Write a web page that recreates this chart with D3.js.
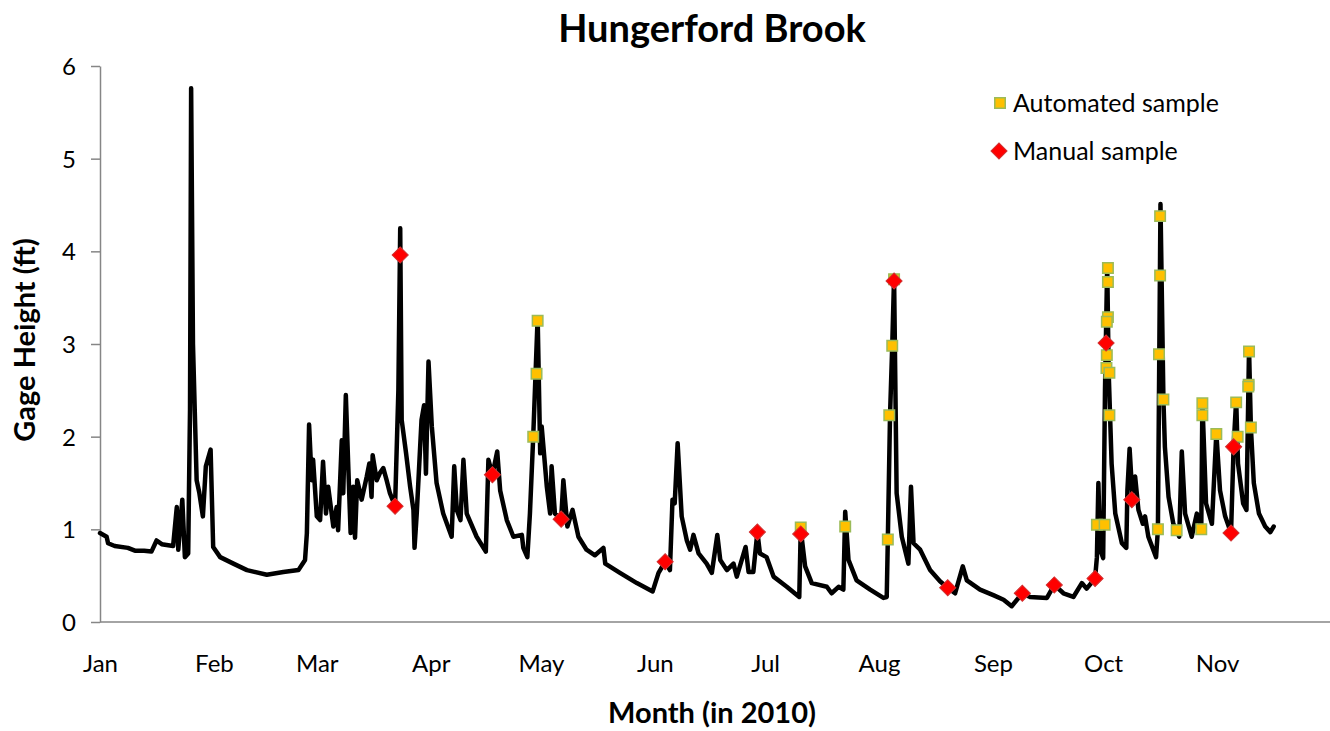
<!DOCTYPE html>
<html lang="en">
<head>
<meta charset="utf-8">
<title>Hungerford Brook</title>
<script src="https://cdn.jsdelivr.net/npm/d3@7"></script>
<style>
body { margin: 0; background: #fff; }
svg text { font-family: Lato, "Open Sans", sans-serif; fill: #000; }
.axis path, .axis line { stroke: #868686; stroke-width: 1.5px; }
.axis text { font-size: 24px; }
.ttl { font-size: 38px; font-weight: bold; }
.lbl { font-size: 29px; font-weight: bold; }
.leg { font-size: 25px; }
</style>
</head>
<body>
<svg width="1330" height="731"></svg>
<script>

// gage record: day of year 2010 (0 = Jan 1) and height (ft)
var lineDays = [0,1.8,2.2,4,7.6,9.5,12,14,15.4,16.8,19.9,20.9,21.3,22.4,23.1,24,24.5,24.8,25.3,26.3,27,28,28.8,30.1,30.8,32.7,36.3,40,45.4,49.9,54,55.8,56.3,56.9,57.6,58,59,59.9,60.7,61.5,62.1,63.5,64.4,64.8,65.8,66.2,66.9,67.6,68.2,68.9,69.4,70,71.2,72.6,73.3,73.9,74.2,75.3,76.2,77.1,78,78.9,80.3,81.2,81.7,82.1,83.3,84.4,85.3,85.6,86.2,87.5,88.2,88.7,89.4,90.3,91.6,93.4,95.7,96.4,97.1,98.1,98.9,99.8,102.5,105,105.7,106.8,108.1,108.9,110.7,112.5,114.8,115.2,116.3,117,117.9,119.1,119.8,120.2,121.6,122.5,122.9,123.8,125.5,126.1,127.2,128.6,130.2,132.4,134.7,137,137.5,141.5,146.1,150.4,152,153.8,155.1,155.8,156.4,157.2,158.3,159.7,160.6,161.5,162.9,165.1,166.5,168,168.8,170.6,172.4,173.3,175.7,176.5,177.8,178.9,179.6,181.4,183.3,186.9,190.3,190.7,191.9,193.7,197.8,199.1,201,202.3,202.8,203.7,205.9,209.6,213.2,214.1,214.4,215,215.6,216.1,216.8,218.2,220,220.7,221.4,223.2,225.9,228.6,230.7,232.7,234.8,235.9,239.5,243.1,245.9,248.1,251,253.1,257.7,259.7,262.2,264.9,267.2,268.5,270.8,271.3,271.7,272.2,273,273.5,274.1,274.5,275.3,276.3,278.1,279.3,279.6,280.2,280.9,281.7,282.6,283.8,284.4,285.3,287.4,287.9,288.6,289.4,289.8,290.8,292.1,293,293.7,294.4,295.3,297.1,298.5,299.7,300,301,302.6,303.8,304.8,306.2,307.8,308.5,309.2,309.7,311.1,312,312.7,313.2,314,315.4,317.1,318.5,319.4];
var lineHeights = [0.96,0.92,0.85,0.82,0.80,0.77,0.77,0.76,0.88,0.84,0.82,1.24,0.78,1.32,0.70,0.74,2.3,5.76,3.0,1.53,1.40,1.14,1.68,1.86,0.81,0.70,0.63,0.56,0.51,0.54,0.56,0.67,0.96,2.13,1.53,1.75,1.14,1.10,1.73,1.17,1.46,1.03,1.24,0.99,1.96,1.39,2.45,1.64,0.96,1.46,0.91,1.53,1.32,1.57,1.71,1.35,1.80,1.53,1.61,1.66,1.53,1.39,1.25,2.5,4.25,2.18,1.82,1.46,1.21,0.80,1.17,2.18,2.34,1.60,2.81,2.11,1.50,1.17,0.92,1.68,1.21,1.10,1.75,1.17,0.92,0.76,1.75,1.59,1.84,1.42,1.10,0.92,0.94,0.80,0.70,1.17,2.00,3.29,1.82,2.11,1.46,1.17,1.68,1.17,1.11,1.53,1.03,1.21,0.92,0.78,0.72,0.80,0.63,0.53,0.42,0.33,0.53,0.65,0.56,1.32,1.28,1.93,1.14,0.88,0.78,0.94,0.74,0.63,0.53,0.94,0.67,0.56,0.63,0.49,0.81,0.54,0.54,0.97,0.74,0.70,0.49,0.38,0.27,1.00,0.60,0.42,0.38,0.31,0.38,0.35,1.19,0.67,0.45,0.35,0.26,0.27,0.89,2.23,2.98,3.72,1.39,0.92,0.63,1.46,0.85,0.78,0.56,0.44,0.37,0.31,0.60,0.45,0.35,0.29,0.24,0.17,0.31,0.27,0.26,0.40,0.31,0.27,0.42,0.36,0.47,0.70,1.50,0.78,0.69,2.5,3.85,2.7,1.71,1.17,0.85,0.80,1.42,1.87,1.39,1.57,1.21,1.06,1.14,0.92,0.70,1.00,4.51,2.40,1.89,1.35,1.06,0.99,0.92,1.84,1.17,0.92,1.17,1.00,2.38,1.28,1.06,2.04,1.42,1.14,0.96,1.89,2.40,1.71,1.28,1.21,2.95,2.10,1.50,1.17,1.03,0.97,1.03];

// automated samples
var autoDays = [117.9,118.8,119.1,190.7,202.8,214.4,214.8,215.6,216.1,271.3,273.4,274.3,274.3,274.3,274.0,274.0,273.9,274.7,274.7,287.9,288.5,288.5,288.2,289.4,293.0,299.7,300.0,300.0,303.8,309.2,309.6,312.7,312.6,312.5,313.2];
var autoHeights = [2.00,2.68,3.25,1.02,1.03,0.89,2.23,2.98,3.70,1.05,1.05,3.82,3.67,3.29,3.24,2.88,2.74,2.69,2.23,1.00,4.38,3.74,2.89,2.40,0.99,1.00,2.36,2.23,2.03,2.37,2.00,2.92,2.56,2.54,2.10];

// manual samples
var manualDays = [80.3,81.7,106.8,125.5,153.8,178.9,190.7,216.1,230.7,251.0,259.7,270.8,273.8,280.8,307.8,308.5];
var manualHeights = [1.25,3.96,1.59,1.11,0.65,0.97,0.95,3.68,0.37,0.31,0.40,0.47,3.01,1.32,0.96,1.89];

var monthLabels = ["Jan","Feb","Mar","Apr","May","Jun","Jul","Aug","Sep","Oct","Nov"];
var yTicks = [0,1,2,3,4,5,6];

var svg = d3.select("svg");
var start = Date.UTC(2010, 0, 1);
function toDate(day) { return new Date(start + day * 864e5); }

var x = d3.scaleUtc()
    .domain([toDate(0), toDate(338)])
    .range([100, 1342]);
var y = d3.scaleLinear()
    .domain([0, 6])
    .range([622, 66]);

var monthTicks = monthLabels.map(function(m, i) { return new Date(Date.UTC(2010, i, 1)); });

var xAxis = svg.append("g")
    .attr("class", "axis")
    .attr("transform", "translate(0,622)")
    .call(d3.axisBottom(x).tickValues(monthTicks).tickSize(0).tickPadding(0)
      .tickFormat(function(d, i) { return monthLabels[i]; }));
xAxis.select(".domain").attr("d", "M100,0H1342");
xAxis.selectAll("text").attr("dy", null).attr("y", 50);

var yAxis = svg.append("g")
    .attr("class", "axis")
    .attr("transform", "translate(100,0)")
    .call(d3.axisLeft(y).tickValues(yTicks).tickSize(9).tickSizeOuter(0).tickPadding(15)
      .tickFormat(d3.format("d")));
yAxis.selectAll("text").attr("dy", "0.35em");

// gage line
var pts = lineDays.map(function(d, i) { return [d, lineHeights[i]]; });
svg.append("path")
    .datum(pts)
    .attr("fill", "none")
    .attr("stroke", "#000")
    .attr("stroke-width", 4.5)
    .attr("stroke-linejoin", "round")
    .attr("stroke-linecap", "round")
    .attr("d", d3.line()
      .x(function(d) { return x(toDate(d[0])); })
      .y(function(d) { return y(d[1]); }));

var square = d3.symbol().type(d3.symbolSquare).size(110);
var diamond = d3.symbol().type(d3.symbolSquare).size(130);

svg.append("g").selectAll("path")
    .data(autoDays.map(function(d, i) { return [d, autoHeights[i]]; }))
    .enter().append("path")
      .attr("d", square)
      .attr("transform", function(d) { return "translate(" + x(toDate(d[0])) + "," + y(d[1]) + ")"; })
      .attr("fill", "#FFC000")
      .attr("stroke", "#9BBB59")
      .attr("stroke-width", 1.5);

svg.append("g").selectAll("path")
    .data(manualDays.map(function(d, i) { return [d, manualHeights[i]]; }))
    .enter().append("path")
      .attr("d", diamond)
      .attr("transform", function(d) { return "translate(" + x(toDate(d[0])) + "," + y(d[1]) + ") rotate(45)"; })
      .attr("fill", "#FF0000")
      .attr("stroke", "#D03030")
      .attr("stroke-width", 1);

// legend
var leg = svg.append("g");
leg.append("path").attr("d", square).attr("transform", "translate(1000,103)")
    .attr("fill", "#FFC000").attr("stroke", "#9BBB59").attr("stroke-width", 1.5);
leg.append("text").attr("class", "leg").attr("x", 1013).attr("y", 103).attr("dy", "0.35em").text("Automated sample");
leg.append("path").attr("d", diamond).attr("transform", "translate(999,151) rotate(45)")
    .attr("fill", "#FF0000").attr("stroke", "#D03030").attr("stroke-width", 1);
leg.append("text").attr("class", "leg").attr("x", 1013).attr("y", 151).attr("dy", "0.35em").text("Manual sample");

// titles
svg.append("text").attr("class", "ttl").attr("x", 712).attr("y", 42).attr("text-anchor", "middle").text("Hungerford Brook");
svg.append("text").attr("class", "lbl").attr("x", 712).attr("y", 723).attr("text-anchor", "middle").text("Month (in 2010)");
svg.append("text").attr("class", "lbl").attr("transform", "translate(35,340) rotate(-90)").attr("text-anchor", "middle").text("Gage Height (ft)");

</script>
</body>
</html>
